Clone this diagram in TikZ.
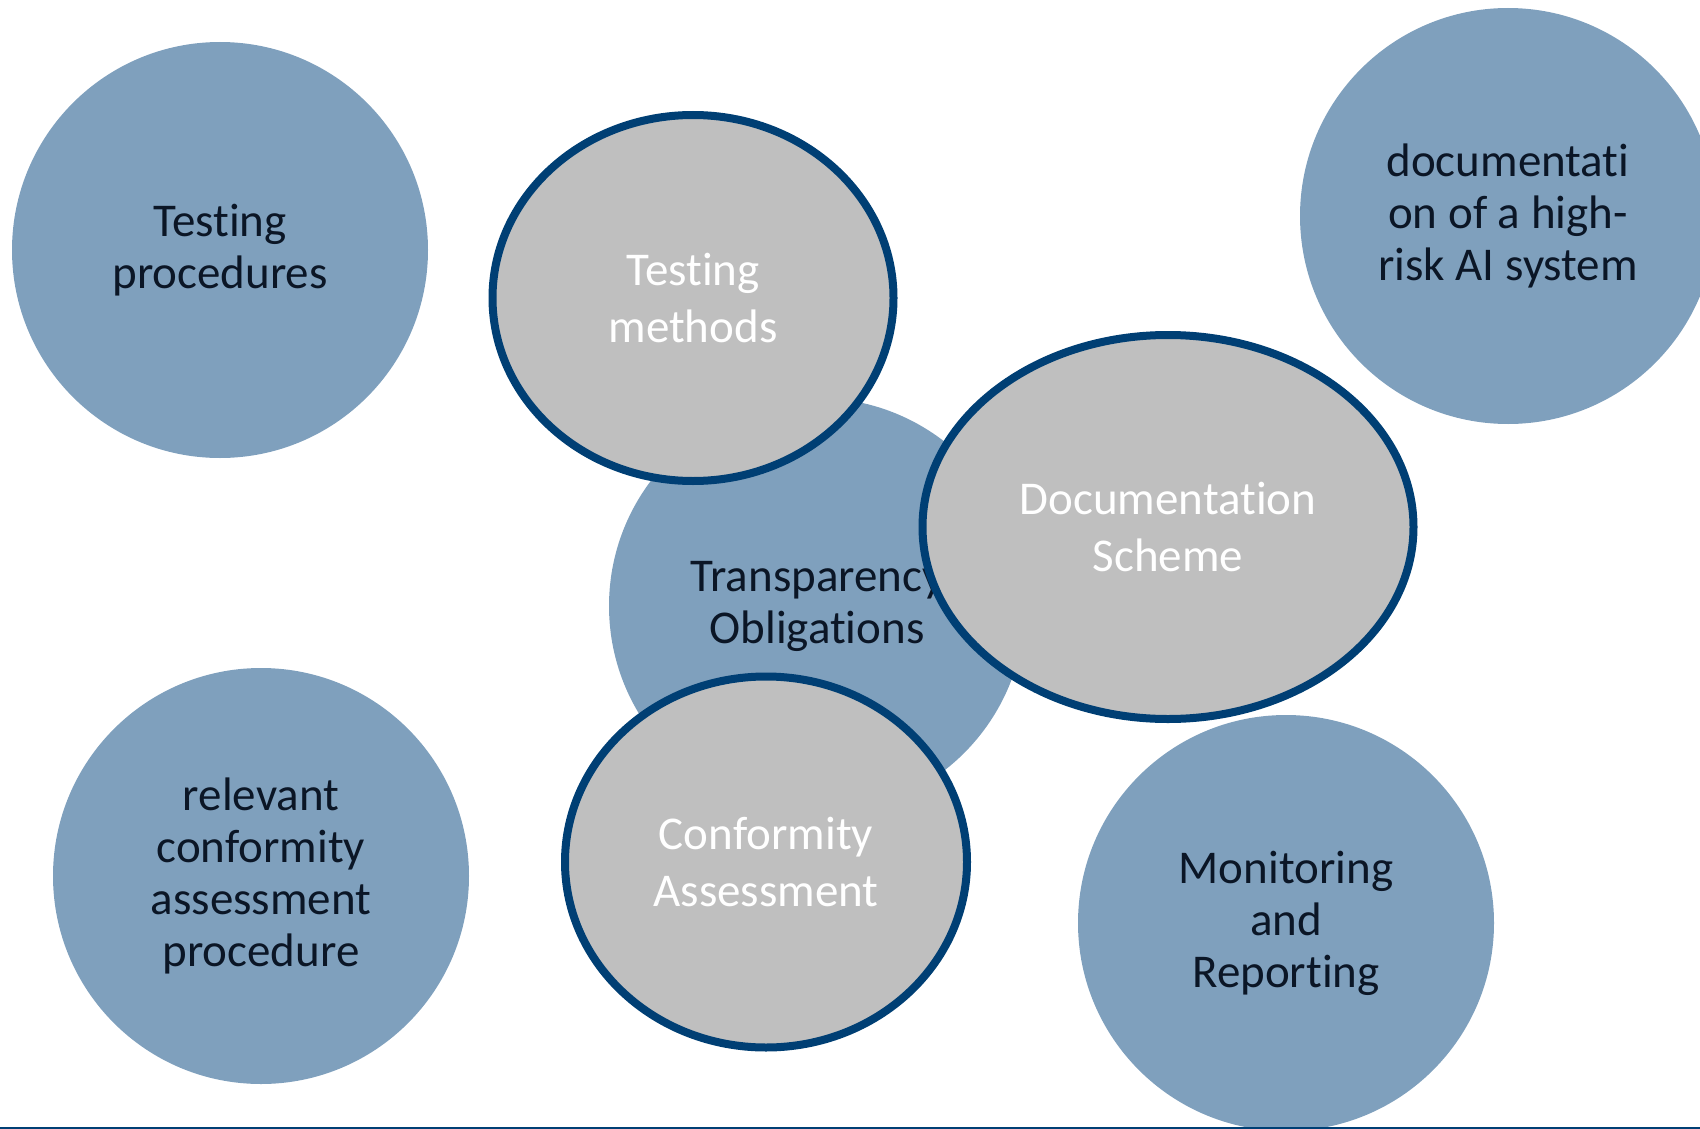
\documentclass[tikz,border=0pt]{standalone}
\usepackage{fontspec}
\setmainfont{Carlito}[RawFeature={-liga;-clig;-calt;-dlig}]
\usetikzlibrary{shapes.geometric}
\definecolor{bluefill}{HTML}{7FA0BD}
\definecolor{grayfill}{HTML}{BFBFBF}
\definecolor{navy}{HTML}{003F74}
\definecolor{darktext}{HTML}{0B1626}
\tikzset{
  bluecirc/.style={circle, fill=bluefill, minimum size=416pt, inner sep=0pt, align=center,
     text=darktext, font=\fontsize{47}{52}\selectfont},
  grayell/.style={ellipse, fill=grayfill, draw=navy, line width=8pt, inner sep=0pt, align=center,
     text=white, font=\fontsize{47}{57}\selectfont},
  baseline rule/.style={draw=navy, line width=2pt}
}
\begin{document}
\begin{tikzpicture}[x=1pt,y=-1pt]
\useasboundingbox (0,0) rectangle (1700,1129);
\clip (0,0) rectangle (1700,1129);
\node[bluecirc] (tp) at (220,250) {Testing\\procedures};
\node[bluecirc] (doc) at (1508,216) {documentati\\on of a high-\\risk AI system};
\node[bluecirc] (trans) at (817,606) {Transparency\\Obligations};
\node[bluecirc] (rel) at (261,876) {relevant\\conformity\\assessment\\procedure};
\node[bluecirc] (mon) at (1286,923) {Monitoring\\and\\Reporting};
\node[grayell, minimum width=401pt, minimum height=366pt] (tm) at (693,298) {Testing\\methods};
\node[grayell, minimum width=491pt, minimum height=384pt] (ds) at (1168,527) {Documentation\\Scheme};
\node[grayell, minimum width=402pt, minimum height=371pt] (ca) at (766,862) {Conformity\\Assessment};
\coordinate (bl) at (0,1128);
\coordinate (br) at (1700,1128);
\draw[baseline rule] (bl) -- (br);
\end{tikzpicture}
\end{document}
